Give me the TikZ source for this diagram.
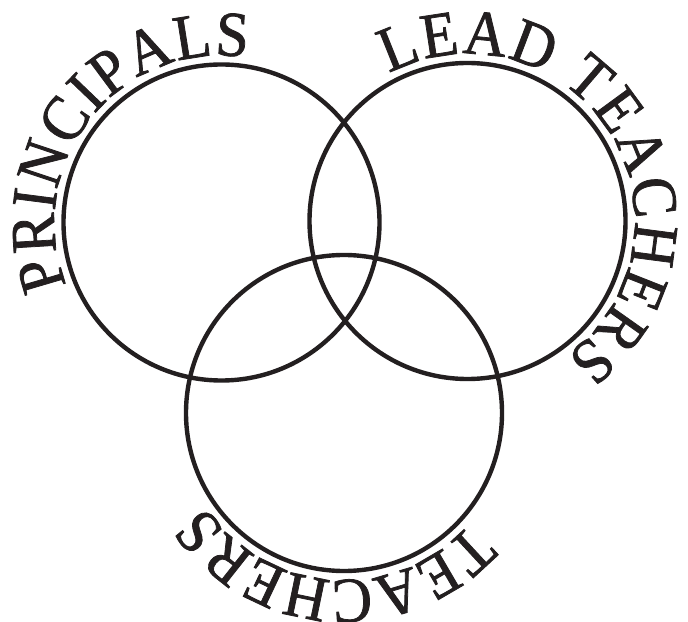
\documentclass[tikz,border=0pt]{standalone}
\usepackage{fontspec}
\setmainfont{Liberation Serif}
\newfontfamily\arcfont[FakeStretch=0.93,FakeBold=1.2]{Liberation Serif}
\usetikzlibrary{decorations.text}
\definecolor{ink}{RGB}{35,31,32}
\begin{document}
\begin{tikzpicture}[x=0.75pt,y=0.75pt,
  ring/.style={circle,draw=ink,line width=3.3pt,minimum size=237pt,inner sep=0pt,outer sep=0pt},
  arctext/.style={decorate,decoration={text along path,text align=fit to path,
     text color=ink,text={|\arcfont\fontsize{48}{48}\selectfont|#1}}}]
\useasboundingbox (0,0) rectangle (688,621);
\node[ring] (c1) at (221.5,398.5) {};
\node[ring] (c2) at (467.5,400) {};
\node[ring] (c3) at (344,208) {};
\path[arctext=PRINCIPALS] ([shift={(202:167)}]c1.center) arc[start angle=202,end angle=81,radius=167];
\path[arctext=LEAD TEACHERS] ([shift={(118:167)}]c2.center) arc[start angle=118,end angle=-54,radius=167];
\path[arctext=TEACHERS] ([shift={(-41:167)}]c3.center) arc[start angle=-41,end angle=-146,radius=167];
\end{tikzpicture}
\end{document}
